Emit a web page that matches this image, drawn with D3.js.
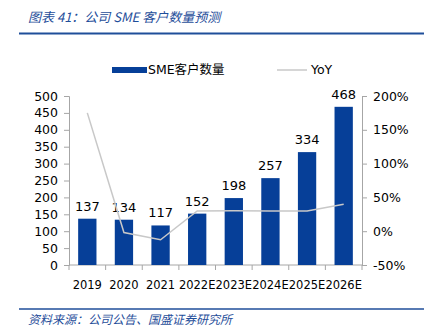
<!DOCTYPE html>
<html><head><meta charset="utf-8">
<script src="https://cdn.jsdelivr.net/npm/d3@7"></script>
<style>body{margin:0;background:#fff}svg{display:block}text{font-family:"DejaVu Sans",Verdana,sans-serif}</style>
</head><body><svg id="c" width="425" height="328"></svg>
<script>
const categories=["2019","2020","2021","2022E","2023E","2024E","2025E","2026E"];
const smeCount=[137,134,117,152,198,257,334,468];
const yoy=[1.75,-0.02,-0.127,0.30,0.303,0.298,0.30,0.40];
const leftTicks=[0,50,100,150,200,250,300,350,400,450,500];
const rightTicks=[-0.5,0,0.5,1,1.5,2];

const svg=d3.select("#c");
const blue="#063f98", axisGray="#a6a6a6", cjk='"Noto Sans CJK SC",sans-serif';
const x0=69,x1=362,yTop=96,yBot=265;
const x=d3.scaleBand().domain(categories).range([x0,x1]).paddingInner(0.5).paddingOuter(0.25);
const yL=d3.scaleLinear().domain([0,500]).range([yBot,yTop]);
const yR=d3.scaleLinear().domain([-0.5,2]).range([yBot,yTop]);

// title
svg.append("text").attr("x",28).attr("y",22).attr("fill","#1f4e9a").attr("font-size",13).attr("font-style","italic")
  .style("font-family",cjk).text("图表 41：公司 SME 客户数量预测");
svg.append("line").attr("x1",19).attr("x2",424).attr("y1",33.5).attr("y2",33.5).attr("stroke","#1f4e9a").attr("stroke-width",2);
// footer
svg.append("line").attr("x1",19).attr("x2",424).attr("y1",309).attr("y2",309).attr("stroke","#1f4e9a").attr("stroke-width",1.5);
svg.append("text").attr("x",28).attr("y",324).attr("fill","#1f4e9a").attr("font-size",12).attr("font-style","italic")
  .style("font-family",cjk).text("资料来源：公司公告、国盛证券研究所");

// legend
svg.append("rect").attr("x",112).attr("y",67).attr("width",35).attr("height",6).attr("fill",blue);
svg.append("text").attr("x",148).attr("y",74).attr("font-size",12.5).attr("fill","#000").style("font-family",'"DejaVu Sans",'+cjk).text("SME客户数量");
svg.append("line").attr("x1",277).attr("x2",307).attr("y1",70).attr("y2",70).attr("stroke","#c8c8c8").attr("stroke-width",1.5);
svg.append("text").attr("x",311).attr("y",74).attr("font-size",12.5).text("YoY");

// axes
const gl=svg.append("g").attr("transform",`translate(${x0},0)`).call(d3.axisLeft(yL).tickValues(leftTicks).tickSize(5).tickPadding(6));
const gr=svg.append("g").attr("transform",`translate(${x1},0)`).call(d3.axisRight(yR).tickValues(rightTicks).tickSize(5).tickPadding(6).tickFormat(d=>Math.round(d*100)+"%"));
const xb=d3.scaleLinear().domain([0,categories.length]).range([x0,x1]);
const gb=svg.append("g").attr("transform",`translate(0,${yBot})`);
gb.append("line").attr("x1",x0).attr("x2",x1).attr("stroke",axisGray);
gb.selectAll("line.t").data(d3.range(categories.length+1)).join("line").attr("class","t")
  .attr("x1",d=>xb(d)).attr("x2",d=>xb(d)).attr("y1",0).attr("y2",5).attr("stroke",axisGray);
gb.selectAll("text").data(categories).join("text").attr("x",d=>x(d)+x.bandwidth()/2).attr("y",24)
  .attr("text-anchor","middle").attr("font-size",11.5).attr("fill","#000").text(d=>d);
[gl,gr].forEach(g=>{g.select(".domain").attr("stroke",axisGray);g.selectAll(".tick line").attr("stroke",axisGray);
  g.selectAll(".tick text").attr("font-size",12.5).attr("fill","#000").style("font-family",'"DejaVu Sans",sans-serif');});

// bars
svg.selectAll("rect.bar").data(smeCount).join("rect").attr("class","bar")
  .attr("x",(d,i)=>x(categories[i])).attr("width",x.bandwidth())
  .attr("y",d=>yL(d)).attr("height",d=>yBot-yL(d)).attr("fill",blue);
svg.selectAll("text.lbl").data(smeCount).join("text").attr("class","lbl")
  .attr("x",(d,i)=>x(categories[i])+x.bandwidth()/2).attr("y",d=>yL(d)-8)
  .attr("text-anchor","middle").attr("font-size",13).text(d=>d);

// yoy line
const line=d3.line().x((d,i)=>x(categories[i])+x.bandwidth()/2).y(d=>yR(d));
svg.append("path").datum(yoy).attr("d",line).attr("fill","none").attr("stroke","#c8c8c8").attr("stroke-width",1.5);
</script></body></html>
